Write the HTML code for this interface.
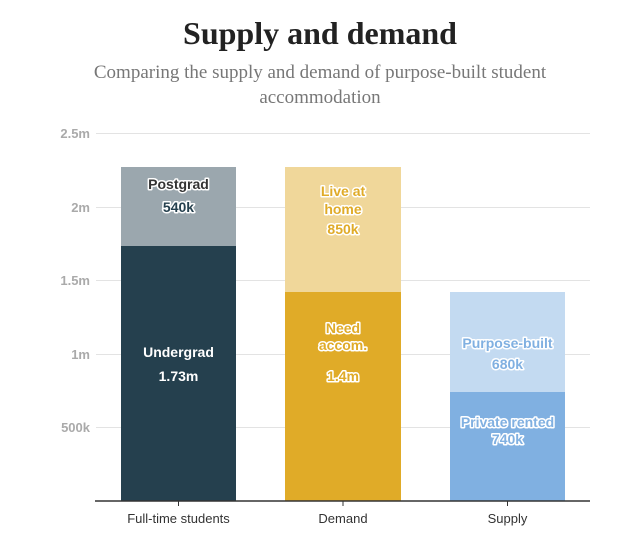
<!DOCTYPE html>
<html><head><meta charset="utf-8"><style>
body{margin:0;background:#fff;width:634px;height:543px;overflow:hidden}
svg text{font-family:"Liberation Sans",sans-serif}
.l{font-size:14px;font-weight:bold;text-anchor:middle;paint-order:stroke;stroke:#fff;stroke-width:3px;stroke-linejoin:round}
</style></head><body>
<svg width="634" height="543" xmlns="http://www.w3.org/2000/svg">
<text x="320" y="44" text-anchor="middle" style="font-family:'Liberation Serif',serif;font-size:32px;font-weight:bold;fill:#222">Supply and demand</text>
<text x="320" y="78" text-anchor="middle" style="font-family:'Liberation Serif',serif;font-size:19px;fill:#777">Comparing the supply and demand of purpose-built student</text>
<text x="320" y="103" text-anchor="middle" style="font-family:'Liberation Serif',serif;font-size:19px;fill:#777">accommodation</text>
<g stroke="#e3e3e3" stroke-width="1">
<line x1="96" x2="590" y1="133.5" y2="133.5"/><line x1="96" x2="590" y1="207.5" y2="207.5"/>
<line x1="96" x2="590" y1="280.5" y2="280.5"/><line x1="96" x2="590" y1="354.5" y2="354.5"/>
<line x1="96" x2="590" y1="427.5" y2="427.5"/></g>
<g style="font-size:13px;font-weight:bold;fill:#aaa" text-anchor="end">
<text x="90" y="138">2.5m</text><text x="90" y="212">2m</text><text x="90" y="285">1.5m</text><text x="90" y="359">1m</text><text x="90" y="432">500k</text></g>
<rect x="121" y="167" width="115" height="79" fill="#9ba7ae"/>
<rect x="121" y="246" width="115" height="255" fill="#25404e"/>
<rect x="285" y="167" width="116" height="125" fill="#f0d79a"/>
<rect x="285" y="292" width="116" height="209" fill="#e0ab28"/>
<rect x="450" y="292" width="115" height="100" fill="#c3daf1"/>
<rect x="450" y="392" width="115" height="109" fill="#80b0e1"/>
<line x1="95" x2="590" y1="501" y2="501" stroke="#333" stroke-width="1.5"/>
<g stroke="#333"><line x1="178.5" x2="178.5" y1="501" y2="506"/><line x1="343" x2="343" y1="501" y2="506"/><line x1="507.5" x2="507.5" y1="501" y2="506"/></g>
<g style="font-size:13px;fill:#333" text-anchor="middle"><text x="178.5" y="523">Full-time students</text><text x="343" y="523">Demand</text><text x="507.5" y="523">Supply</text></g>
<g class="l" fill="#333"><text x="178.5" y="189">Postgrad</text><text x="178.5" y="212" fill="#25404e">540k</text></g>
<g class="l" fill="#fff" style="stroke:#25404e"><text x="178.5" y="357">Undergrad</text><text x="178.5" y="381">1.73m</text></g>
<g class="l" fill="#e0ab28"><text x="343" y="196">Live at</text><text x="343" y="214">home</text><text x="343" y="234">850k</text></g>
<g class="l" fill="#e0ab28"><text x="343" y="333">Need</text><text x="343" y="350">accom.</text><text x="343" y="381">1.4m</text></g>
<g class="l" fill="#80b0e1"><text x="507.5" y="348">Purpose-built</text><text x="507.5" y="369">680k</text><text x="507.5" y="427">Private rented</text><text x="507.5" y="444">740k</text></g>
</svg>
</body></html>
